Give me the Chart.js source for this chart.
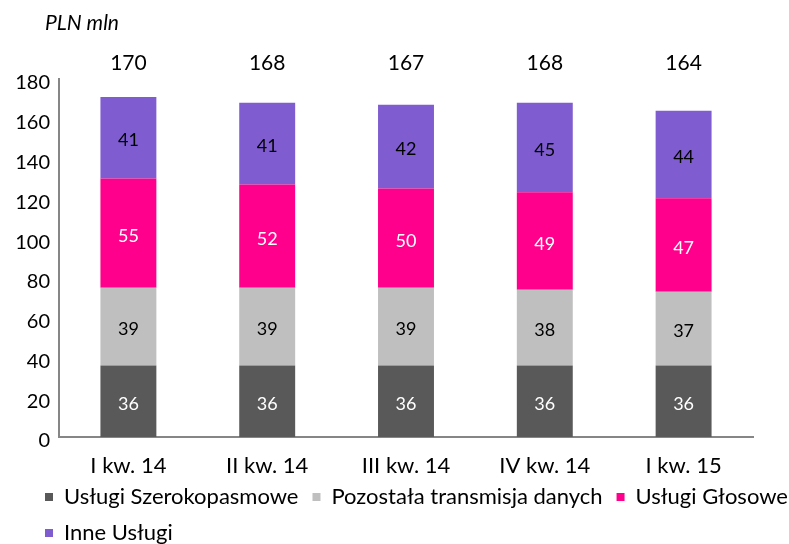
<!DOCTYPE html>
<html>
<head>
<meta charset="utf-8">
<script src="https://cdn.jsdelivr.net/npm/chart.js@4/dist/chart.umd.min.js"></script>
<style>
  html, body { margin: 0; padding: 0; background: #fff; overflow: hidden; }
  #wrap { width: 789px; height: 562px; }
</style>
</head>
<body>
<div id="wrap"><canvas id="chart"></canvas></div>
<script>
const quarters = ['I kw. 14', 'II kw. 14', 'III kw. 14', 'IV kw. 14', 'I kw. 15'];
const broadband = [36, 36, 36, 36, 36];
const dataTransmission = [39, 39, 39, 38, 37];
const voice = [55, 52, 50, 49, 47];
const other = [41, 41, 42, 45, 44];
const totals = [170, 168, 167, 168, 164];
const yTicks = [0, 20, 40, 60, 80, 100, 120, 140, 160, 180];

const FONT = 'Lato, "Open Sans", sans-serif';
const labelColors = ['#ffffff', '#000000', '#ffffff', '#000000'];

const labelsPlugin = {
    id: 'labels',
    afterLayout(chart) {
        // nudge the legend right and up, like the original
        chart.legend.left += 31;
        chart.legend.right += 31;
        chart.legend.top -= 8;
        chart.legend.bottom -= 8;
    },
    afterDatasetsDraw(chart) {
        const ctx = chart.ctx;
        ctx.save();
        ctx.textAlign = 'center';
        ctx.textBaseline = 'middle';
        ctx.font = '18px ' + FONT;
        chart.data.datasets.forEach((ds, i) => {
            const meta = chart.getDatasetMeta(i);
            meta.data.forEach((bar, j) => {
                const mid = (bar.y + bar.base) / 2;
                ctx.fillStyle = labelColors[i];
                ctx.fillText(ds.data[j], bar.x, mid + 3);
            });
        });
        // totals above the stacks
        ctx.font = '21px ' + FONT;
        ctx.fillStyle = '#000';
        chart.getDatasetMeta(3).data.forEach((bar, j) => {
            ctx.fillText(totals[j], bar.x, chart.chartArea.top - 16);
        });
        // unit caption
        ctx.font = 'italic 21px ' + FONT;
        ctx.textAlign = 'left';
        ctx.fillText('PLN mln', chart.chartArea.left - 14, 23);
        ctx.restore();
    }
};

new Chart(document.getElementById('chart'), {
    type: 'bar',
    data: {
        labels: quarters,
        datasets: [
            { label: 'Usługi Szerokopasmowe', data: broadband, backgroundColor: '#595959' },
            { label: 'Pozostała transmisja danych', data: dataTransmission, backgroundColor: '#bfbfbf' },
            { label: 'Usługi Głosowe', data: voice, backgroundColor: '#ff008c' },
            { label: 'Inne Usługi', data: other, backgroundColor: '#7f5ccf' }
        ]
    },
    options: {
        responsive: true,
        maintainAspectRatio: false,
        animation: false,
        layout: { padding: { top: 79, right: 0, left: 0, bottom: 0 } },
        datasets: { bar: { categoryPercentage: 1, barPercentage: 0.403 } },
        scales: {
            x: {
                stacked: true,
                grid: { display: false, drawTicks: false },
                border: { color: '#868686', width: 2 },
                ticks: { color: '#000', font: { family: FONT, size: 22 }, padding: 16 },
                afterFit(axis) { axis.height = 43; }
            },
            y: {
                stacked: true,
                min: 0,
                max: 180,
                afterBuildTicks(axis) { axis.ticks = yTicks.map(v => ({ value: v })); },
                grid: { display: false, drawTicks: false },
                border: { color: '#868686', width: 2 },
                ticks: { color: '#000', font: { family: FONT, size: 20 }, padding: 9, labelOffset: 4 },
                afterFit(axis) { axis.width = 59; }
            },
            yRight: {
                position: 'right',
                grid: { display: false, drawTicks: false },
                border: { display: false },
                ticks: { display: false },
                afterFit(axis) { axis.width = 36; }
            }
        },
        plugins: {
            legend: {
                position: 'bottom',
                align: 'start',
                labels: {
                    color: '#000',
                    font: { family: FONT, size: 22 },
                    boxWidth: 8,
                    boxHeight: 8,
                    padding: 14
                }
            },
            tooltip: { enabled: false }
        }
    },
    plugins: [labelsPlugin]
});
</script>
</body>
</html>
